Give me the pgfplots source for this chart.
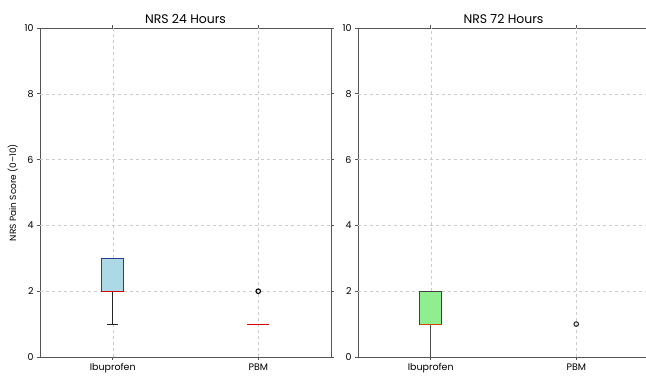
\documentclass[border=0pt]{standalone}
\usepackage{pgfplots}
\pgfplotsset{compat=1.18}
\usepgfplotslibrary{statistics}
\usepackage{fontspec}
\setmainfont{Poppins}
\definecolor{boxblue}{HTML}{ADD8E6}
\definecolor{boxgreen}{HTML}{90EE90}
\definecolor{edgeblue}{HTML}{2B3A9A}
\definecolor{spine}{HTML}{555555}
\definecolor{gridc}{HTML}{CCCCCC}
\pgfplotsset{
  panel/.style={
    scale only axis, width=291bp, height=329bp,
    xmin=-0.5, xmax=1.5, ymin=0, ymax=10,
    xtick={0,1}, xticklabels={Ibuprofen,PBM},
    ytick={0,2,4,6,8,10},
    axis line style={spine, line width=0.9pt},
    tick style={spine, line width=0.6pt},
    tick align=outside, major tick length=3pt,
    ticklabel style={font=\fontsize{9.5}{11}\selectfont},
    /pgf/number format/assume math mode=true,
    title style={font=\fontsize{12.5}{14}\selectfont, yshift=-5pt},
    boxplot/draw direction=y,
    boxplot/box extend=0.15,
    boxplot/whisker extend=0.075,
  },
  gridline/.style={gridc, dashed, line width=0.4pt, forget plot, mark=none},
}
\begin{document}
\begin{tikzpicture}
\useasboundingbox (0,0) rectangle (646bp,377bp);
\begin{axis}[panel, at={(40bp,20bp)}, anchor=south west,
  title={NRS 24 Hours},
  ylabel={NRS Pain Score (0--10)},
  ylabel style={font=\fontsize{9}{10}\selectfont, yshift=0pt}]
\addplot[gridline] coordinates {(0,3) (0,10)};
\addplot[gridline] coordinates {(0,0) (0,1)};
\addplot[gridline] coordinates {(1,0) (1,10)};
\addplot[gridline] coordinates {(-0.5,2) (-0.075,2)};
\addplot[gridline] coordinates {(0.075,2) (1.5,2)};
\addplot[gridline] coordinates {(-0.5,4) (1.5,4)};
\addplot[gridline] coordinates {(-0.5,6) (1.5,6)};
\addplot[gridline] coordinates {(-0.5,8) (1.5,8)};
\addplot[draw=edgeblue, fill=boxblue, line width=0.8pt, solid,
  boxplot prepared={draw position=0, lower whisker=1, lower quartile=2, median=2, upper quartile=3, upper whisker=3,
    every median/.style={draw=red!85!black, solid, line width=0.8pt},
    every whisker/.style={draw=black!85, solid, line width=0.9pt}}]
  coordinates {};
\addplot[draw=black!80, line width=0.8pt, solid, mark=o, mark size=2.3pt, mark options={black, solid, line width=1.1pt, fill=none},
  boxplot prepared={draw position=1, lower whisker=1, lower quartile=1, median=1, upper quartile=1, upper whisker=1,
    every median/.style={draw=red!85!black, solid, line width=0.8pt},
    every box/.style={draw=none},
    every whisker/.style={draw=none}}]
  table[row sep=\\, y index=0] {y\\ 2\\};
\end{axis}
\begin{axis}[panel, at={(358bp,20bp)}, anchor=south west,
  title={NRS 72 Hours}]
\addplot[gridline] coordinates {(0,2) (0,10)};
\addplot[gridline] coordinates {(1,0) (1,10)};
\addplot[gridline] coordinates {(-0.5,2) (-0.075,2)};
\addplot[gridline] coordinates {(0.075,2) (1.5,2)};
\addplot[gridline] coordinates {(-0.5,4) (1.5,4)};
\addplot[gridline] coordinates {(-0.5,6) (1.5,6)};
\addplot[gridline] coordinates {(-0.5,8) (1.5,8)};
\addplot[draw=black!75, fill=boxgreen, line width=0.8pt, solid,
  boxplot prepared={draw position=0, lower whisker=0, lower quartile=1, median=1, upper quartile=2, upper whisker=2,
    every median/.style={draw=orange!70!red!80!black, solid, line width=0.8pt},
    every whisker/.style={draw=black!70, solid, line width=0.9pt}}]
  coordinates {};
\addplot[draw=black!80, line width=0.8pt, solid, mark=o, mark size=2.3pt, mark options={black!80, solid, line width=1.1pt, fill=none},
  boxplot prepared={draw position=1, lower whisker=0, lower quartile=0, median=0, upper quartile=0, upper whisker=0,
    every median/.style={draw=none},
    every box/.style={draw=none},
    every whisker/.style={draw=none}}]
  table[row sep=\\, y index=0] {y\\ 1\\};
\end{axis}
\end{tikzpicture}
\end{document}
